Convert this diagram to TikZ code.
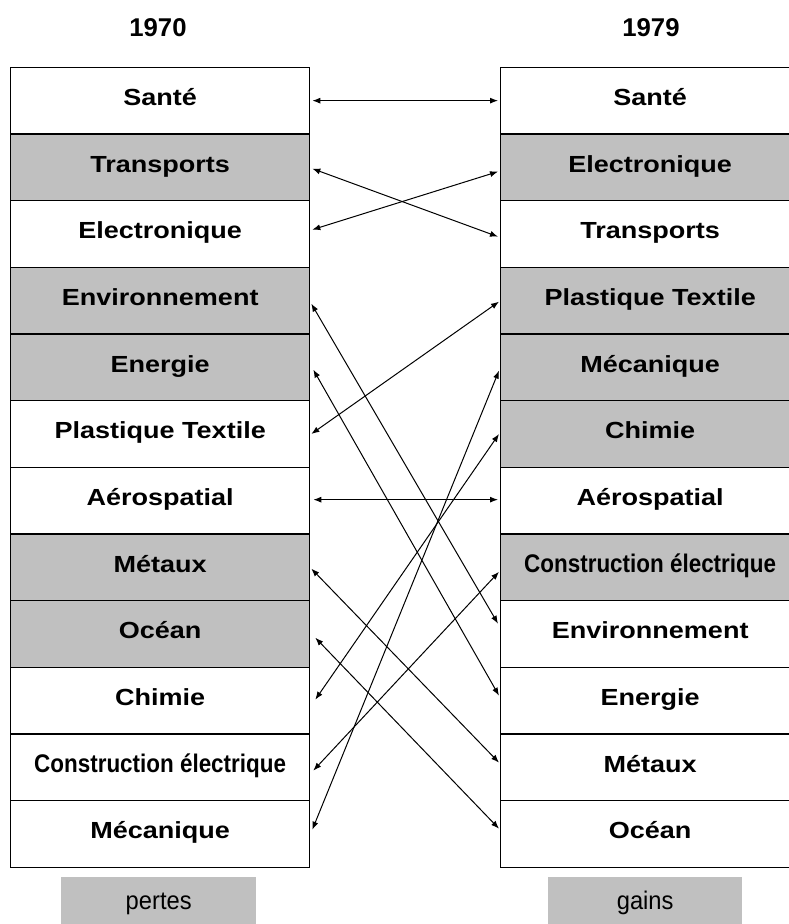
\documentclass[tikz,border=0pt]{standalone}
\usepackage{fontspec}
\setmainfont{Liberation Sans}
\usetikzlibrary{arrows.meta}
\definecolor{boxgray}{RGB}{192,192,192}
\begin{document}
\begin{tikzpicture}[x=1pt,y=-1pt,
  row/.style={draw, line width=1.3pt, minimum width=299pt, minimum height=66.67pt,
    anchor=north west, inner sep=0pt, text height=16.7pt, text depth=6.7pt,
    font=\fontsize{23.3}{28}\selectfont\bfseries},
  gr/.style={fill=boxgray},
  title/.style={font=\fontsize{25.7}{30}\selectfont\bfseries, text height=18.4pt, text depth=0pt, inner sep=0pt},
  legend/.style={fill=boxgray, minimum height=47pt, anchor=north west, inner sep=0pt,
    text height=17.6pt, text depth=0pt, font=\fontsize{25.5}{30}\selectfont},
  link/.style={line width=1pt, {Latex[length=8pt,width=6pt]}-{Latex[length=8pt,width=6pt]}}]
\useasboundingbox (0,0) rectangle (788,924);
\newcommand{\wide}[1]{\scalebox{1.16}[1]{#1}}
\newcommand{\narrowtxt}[1]{{\fontsize{25.5}{30}\selectfont\scalebox{0.88}[1]{#1}}}
\newcommand{\legtxt}[1]{\scalebox{0.93}[1]{#1}}
% titles
\node[title] (t1) at (158,27.5) {1970};
\node[title] (t2) at (651,27.5) {1979};
% left column
\node[row] (L1) at (10,66.67) {\wide{Santé}};
\node[row,gr] (L2) at (10,133.33) {\wide{Transports}};
\node[row] (L3) at (10,200) {\wide{Electronique}};
\node[row,gr] (L4) at (10,266.67) {\wide{Environnement}};
\node[row,gr] (L5) at (10,333.33) {\wide{Energie}};
\node[row] (L6) at (10,400) {\wide{Plastique Textile}};
\node[row] (L7) at (10,466.67) {\wide{Aérospatial}};
\node[row,gr] (L8) at (10,533.33) {\wide{Métaux}};
\node[row,gr] (L9) at (10,600) {\wide{Océan}};
\node[row] (L10) at (10,666.67) {\wide{Chimie}};
\node[row] (L11) at (10,733.33) {\narrowtxt{Construction électrique}};
\node[row] (L12) at (10,800) {\wide{Mécanique}};
% right column
\node[row] (R1) at (500,66.67) {\wide{Santé}};
\node[row,gr] (R2) at (500,133.33) {\wide{Electronique}};
\node[row] (R3) at (500,200) {\wide{Transports}};
\node[row,gr] (R4) at (500,266.67) {\wide{Plastique Textile}};
\node[row,gr] (R5) at (500,333.33) {\wide{Mécanique}};
\node[row,gr] (R6) at (500,400) {\wide{Chimie}};
\node[row] (R7) at (500,466.67) {\wide{Aérospatial}};
\node[row,gr] (R8) at (500,533.33) {\narrowtxt{Construction électrique}};
\node[row] (R9) at (500,600) {\wide{Environnement}};
\node[row] (R10) at (500,666.67) {\wide{Energie}};
\node[row] (R11) at (500,733.33) {\wide{Métaux}};
\node[row] (R12) at (500,800) {\wide{Océan}};
% legends
\node[legend, minimum width=195pt] (pertes) at (61,877) {\legtxt{pertes}};
\node[legend, minimum width=194pt] (gains) at (548,877) {\legtxt{gains}};
% connectors
\draw[link] ([xshift=2pt]L1.east) -- ([xshift=-2pt]R1.west);
\draw[link] ([xshift=2pt,yshift=-1.3pt]L2.east) -- ([xshift=-2pt,yshift=-2.7pt]R3.west);
\draw[link] ([xshift=2pt,yshift=4.3pt]L3.east) -- ([xshift=-2pt,yshift=-4.3pt]R2.west);
\draw[link] ([xshift=1pt,yshift=-3pt]L4.east) -- ([xshift=-2pt,yshift=10.3pt]R9.west);
\draw[link] ([xshift=3pt,yshift=-2.3pt]L5.east) -- ([xshift=-1pt,yshift=5pt]R10.west);
\draw[link] ([xshift=1pt]L6.east) -- ([xshift=-1pt,yshift=-1pt]R4.west);
\draw[link] ([xshift=3pt,yshift=1pt]L7.east) -- ([xshift=-2pt,yshift=1pt]R7.west);
\draw[link] ([xshift=1pt,yshift=-1.3pt]L8.east) -- ([xshift=-1pt,yshift=4.7pt]R11.west);
\draw[link] ([xshift=5pt,yshift=-3.7pt]L9.east) -- ([xshift=-1pt,yshift=5.3pt]R12.west);
\draw[link] ([xshift=5pt,yshift=1pt]L10.east) -- ([xshift=-1pt]R6.west);
\draw[link] ([xshift=3pt,yshift=-3.3pt]L11.east) -- ([xshift=-1pt,yshift=-4.5pt]R8.west);
\draw[link] ([xshift=2pt,yshift=4.3pt]L12.east) -- ([xshift=-1pt,yshift=-3.3pt]R5.west);
\end{tikzpicture}
\end{document}
